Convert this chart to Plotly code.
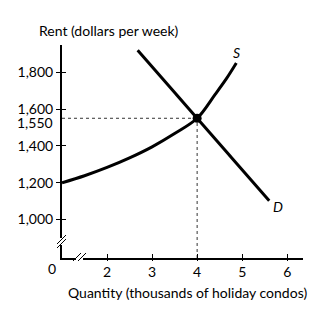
import plotly.graph_objects as go

# Data
supply_q = [1.0, 1.5, 2.0, 2.5, 3.0, 3.5, 4.0, 4.4, 4.65, 4.87]
supply_p = [1200, 1238, 1283, 1335, 1395, 1467, 1550, 1680, 1765, 1850]
demand_q = [2.68, 5.6]
demand_p = [1920, 1102]
eq_q = 4
eq_p = 1550
x_ticks = [2, 3, 4, 5, 6]
y_ticks = [1000, 1200, 1400, 1600, 1800]
y_ticktext = ["1,000", "1,200", "1,400", "1,600", "1,800"]

FONT = "Lato"
X_RANGE = [1.0, 6.35]
Y_RANGE = [791, 1948]

fig = go.Figure()

# dotted guides
fig.add_trace(go.Scatter(x=[X_RANGE[0], eq_q], y=[eq_p, eq_p], mode="lines",
                         line=dict(color="#333", width=1, dash="dot"), hoverinfo="skip"))
fig.add_trace(go.Scatter(x=[eq_q, eq_q], y=[Y_RANGE[0], eq_p], mode="lines",
                         line=dict(color="#333", width=1, dash="dot"), hoverinfo="skip"))
# supply
fig.add_trace(go.Scatter(x=supply_q, y=supply_p, mode="lines",
                         line=dict(color="black", width=3, shape="spline", smoothing=1.0)))
# demand
fig.add_trace(go.Scatter(x=demand_q, y=demand_p, mode="lines",
                         line=dict(color="black", width=3)))
# equilibrium
fig.add_trace(go.Scatter(x=[eq_q], y=[eq_p], mode="markers",
                         marker=dict(color="black", size=9)))

# overlay axes for tick crossing
fig.add_trace(go.Scatter(x=[None], y=[None], xaxis="x2", yaxis="y2", showlegend=False))

fig.update_layout(
    width=328, height=320,
    margin=dict(l=62, r=25, t=45, b=62),
    plot_bgcolor="white", paper_bgcolor="white",
    showlegend=False,
    font=dict(family=FONT, size=14, color="black"),
    xaxis=dict(range=X_RANGE, tickvals=x_ticks, ticktext=[str(v) for v in x_ticks],
               showline=True, linewidth=2, linecolor="black", showgrid=False, zeroline=False,
               ticks="inside", ticklen=4, tickwidth=1, tickcolor="black"),
    yaxis=dict(range=Y_RANGE, tickvals=y_ticks, ticktext=y_ticktext,
               showline=True, linewidth=2, linecolor="black", showgrid=False, zeroline=False,
               ticks="outside", ticklen=4, tickwidth=1, tickcolor="black"),
    xaxis2=dict(range=X_RANGE, overlaying="x", tickvals=x_ticks, showticklabels=False,
                showline=False, showgrid=False, zeroline=False,
                ticks="outside", ticklen=2, tickwidth=1, tickcolor="black"),
    yaxis2=dict(range=Y_RANGE, overlaying="y", tickvals=y_ticks, showticklabels=False,
                showline=False, showgrid=False, zeroline=False,
                ticks="inside", ticklen=4, tickwidth=1, tickcolor="black"),
)

annotations = [
    dict(text="Rent (dollars per week)", xref="paper", yref="paper", x=-0.104, y=1.070,
         xanchor="left", yanchor="middle", showarrow=False, font=dict(size=14)),
    dict(text="Quantity (thousands of holiday condos)", xref="paper", yref="paper",
         x=0.521, y=-0.160, xanchor="center", yanchor="middle", showarrow=False, font=dict(size=14)),
    dict(text="1,550", xref="paper", yref="y", x=-0.03, y=eq_p, yshift=-4, xanchor="right",
         yanchor="middle", showarrow=False, font=dict(size=14)),
    dict(text="0", xref="paper", yref="paper", x=-0.041, y=-0.047, xanchor="center",
         yanchor="middle", showarrow=False, font=dict(size=14)),
    dict(text="<i>S</i>", x=4.87, y=1905, showarrow=False, font=dict(size=14)),
    dict(text="<i>D</i>", x=5.8, y=1070, showarrow=False, font=dict(size=14)),
]
fig.update_layout(annotations=annotations)

# axis break marks (paper coords)
def slash(x0, y0, x1, y1):
    fig.add_shape(type="line", xref="paper", yref="paper", x0=x0, y0=y0, x1=x1, y1=y1,
                  line=dict(color="black", width=1))

pw, ph = 328 - 62 - 25, 320 - 45 - 62
def px(x, y):
    return (x - 62) / pw, (320 - 62 - y) / ph

# white gap + slashes on y axis
fig.add_shape(type="rect", xref="paper", yref="paper",
              x0=px(59, 0)[0], x1=px(65, 0)[0], y0=px(0, 245)[1], y1=px(0, 238)[1],
              line=dict(width=0), fillcolor="white")
for dy in (0, 4):
    a = px(57, 248 - dy); b = px(66, 239 - dy)
    slash(a[0], a[1], b[0], b[1])
# x axis
fig.add_shape(type="rect", xref="paper", yref="paper",
              x0=px(76, 0)[0], x1=px(83, 0)[0], y0=px(0, 261)[1], y1=px(0, 255)[1],
              line=dict(width=0), fillcolor="white")
for dx in (0, 5):
    a = px(73 + dx, 261); b = px(81 + dx, 253)
    slash(a[0], a[1], b[0], b[1])

fig.write_html("out.html")
